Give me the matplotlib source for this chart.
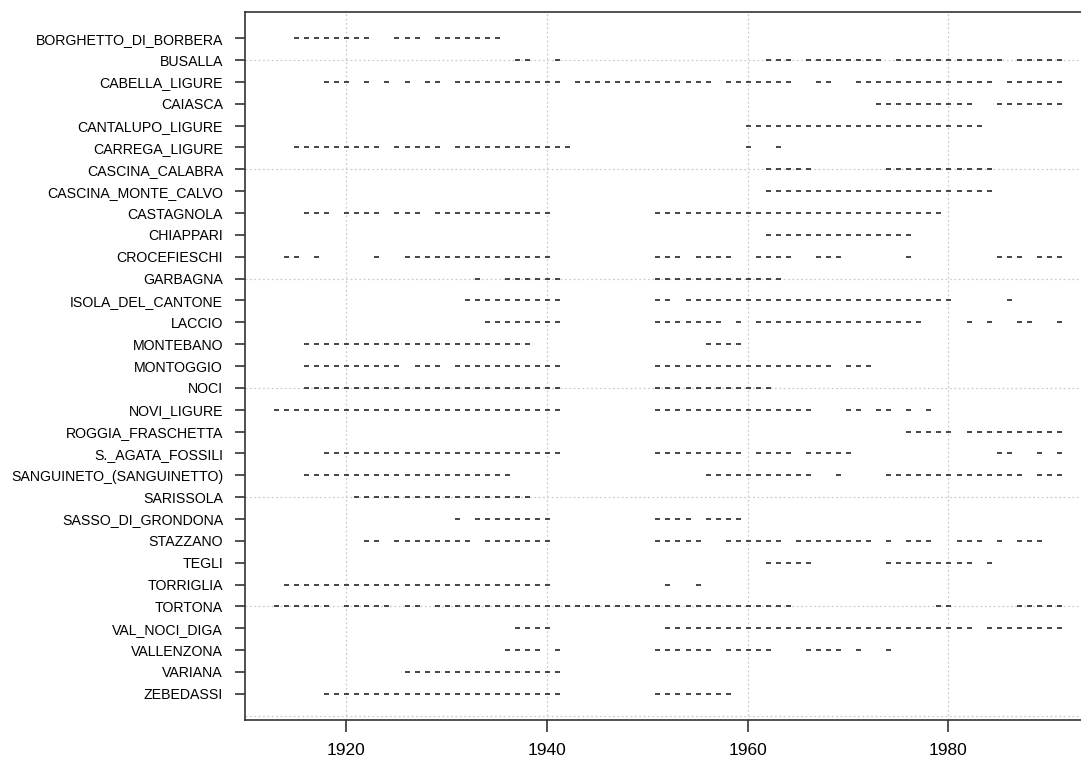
import matplotlib
matplotlib.use("Agg")
import matplotlib.pyplot as plt
from matplotlib import font_manager

# stations, top to bottom, and the year spans with data (start, end)
stations = ["BORGHETTO_DI_BORBERA", "BUSALLA", "CABELLA_LIGURE", "CAIASCA",
            "CANTALUPO_LIGURE", "CARREGA_LIGURE", "CASCINA_CALABRA",
            "CASCINA_MONTE_CALVO", "CASTAGNOLA", "CHIAPPARI", "CROCEFIESCHI",
            "GARBAGNA", "ISOLA_DEL_CANTONE", "LACCIO", "MONTEBANO", "MONTOGGIO",
            "NOCI", "NOVI_LIGURE", "ROGGIA_FRASCHETTA", "S._AGATA_FOSSILI",
            "SANGUINETO_(SANGUINETTO)", "SARISSOLA", "SASSO_DI_GRONDONA",
            "STAZZANO", "TEGLI", "TORRIGLIA", "TORTONA", "VAL_NOCI_DIGA",
            "VALLENZONA", "VARIANA", "ZEBEDASSI"]

spans = [
    [(1915, 1922), (1925, 1927), (1929, 1935)],
    [(1937, 1938), (1941, 1941), (1962, 1964), (1966, 1973), (1975, 1985), (1987, 1991)],
    [(1918, 1920), (1922, 1922), (1924, 1924), (1926, 1926), (1928, 1929), (1931, 1941),
     (1943, 1956), (1958, 1964), (1967, 1968), (1971, 1984), (1986, 1991)],
    [(1973, 1982), (1985, 1991)],
    [(1960, 1983)],
    [(1915, 1923), (1925, 1929), (1931, 1942), (1960, 1960), (1963, 1963)],
    [(1962, 1966), (1974, 1984)],
    [(1962, 1984)],
    [(1916, 1918), (1920, 1923), (1925, 1927), (1929, 1940), (1951, 1979)],
    [(1962, 1976)],
    [(1914, 1915), (1917, 1917), (1923, 1923), (1926, 1940), (1951, 1953), (1955, 1958),
     (1961, 1964), (1967, 1969), (1976, 1976), (1985, 1987), (1989, 1991)],
    [(1933, 1933), (1936, 1941), (1951, 1963)],
    [(1932, 1941), (1951, 1952), (1954, 1980), (1986, 1986)],
    [(1934, 1941), (1951, 1957), (1959, 1959), (1961, 1977), (1982, 1982), (1984, 1984),
     (1987, 1988), (1991, 1991)],
    [(1916, 1938), (1956, 1959)],
    [(1916, 1925), (1927, 1929), (1931, 1941), (1951, 1968), (1970, 1972)],
    [(1916, 1941), (1951, 1962)],
    [(1913, 1941), (1951, 1966), (1970, 1971), (1973, 1974), (1976, 1976), (1978, 1978)],
    [(1976, 1980), (1982, 1991)],
    [(1918, 1941), (1951, 1959), (1961, 1964), (1966, 1970), (1985, 1986), (1989, 1989),
     (1991, 1991)],
    [(1916, 1936), (1956, 1966), (1969, 1969), (1974, 1987), (1989, 1991)],
    [(1921, 1938)],
    [(1931, 1931), (1933, 1940), (1951, 1954), (1956, 1959)],
    [(1922, 1923), (1925, 1932), (1934, 1940), (1951, 1955), (1958, 1963), (1965, 1972),
     (1974, 1974), (1976, 1978), (1981, 1983), (1985, 1985), (1987, 1989)],
    [(1962, 1966), (1974, 1982), (1984, 1984)],
    [(1914, 1940), (1952, 1952), (1955, 1955)],
    [(1913, 1918), (1920, 1924), (1926, 1927), (1929, 1964), (1979, 1980), (1987, 1991)],
    [(1937, 1940), (1952, 1982), (1984, 1991)],
    [(1936, 1939), (1941, 1941), (1951, 1956), (1958, 1962), (1966, 1969), (1971, 1971),
     (1974, 1974)],
    [(1926, 1941)],
    [(1918, 1941), (1951, 1958)],
]

xticks = [1920, 1940, 1960, 1980]

# narrow font if available
try:
    font_manager.findfont("Liberation Sans Narrow", fallback_to_default=False)
    fam, ysize, xsize = "Liberation Sans Narrow", 12.3, 15
except Exception:
    fam, ysize, xsize = "Liberation Sans", 10.2, 12.5
plt.rcParams["font.family"] = [fam, "DejaVu Sans"]

fig = plt.figure(figsize=(10.81, 7.69), dpi=100)
ax = fig.add_axes([0.2266, 0.0637, 0.7817, 0.9207])

n = len(stations)
for i, (name, sp) in enumerate(zip(stations, spans)):
    years = [y for a, b in sp for y in range(a, b + 1)]
    ax.plot(years, [n - i] * len(years), ls="none", marker="_",
            ms=3.6, mew=1.2, color="#262626")

# dotted grid like R grid()
for g in xticks:
    ax.axvline(g, color="#cccccc", ls=(0, (1.5, 2)), lw=0.9, zorder=0)
for g in range(0, 31, 5):
    ax.axhline(g, color="#cccccc", ls=(0, (1.5, 2)), lw=0.9, zorder=0)

ax.set_xlim(1909.9, 1994.1)
ax.set_ylim(-0.2, 32.2)
ax.set_yticks(range(n, 0, -1))
ax.set_yticklabels(stations, fontsize=ysize)
ax.set_xticks(xticks)
ax.set_xticklabels([str(t) for t in xticks], fontsize=xsize)
ax.tick_params(axis="y", length=7.2, width=1.2, pad=8.6, color="#333333")
ax.tick_params(axis="x", length=8.6, width=1.2, pad=8.0, color="#333333")
for s in ax.spines.values():
    s.set_linewidth(1.2)
    s.set_color("#333333")
ax.spines["right"].set_visible(False)

fig.savefig("out.png", dpi=100)
